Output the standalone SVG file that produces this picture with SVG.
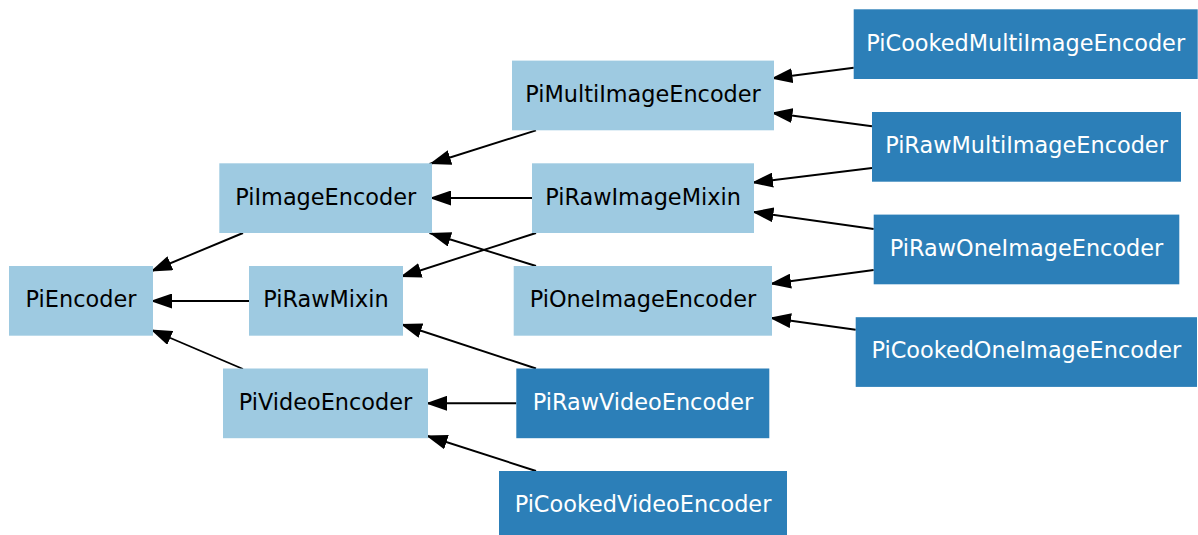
<svg xmlns="http://www.w3.org/2000/svg" width="1198" height="535" viewBox="0 0 1198 535">
  <style>
    .base rect { fill: #9ecae1; }
    .leaf rect { fill: #2c7fb8; }
    text { font-family: "DejaVu Sans", "Liberation Sans", sans-serif; font-size: 22.4px; text-anchor: middle; }
    .base text { fill: #000000; }
    .leaf text { fill: #ffffff; }
    #edges line { stroke: #000000; stroke-width: 1.9; marker-end: url(#arrow); }
  </style>
  <defs>
    <marker id="arrow" viewBox="0 0 21.5 15" markerWidth="21.5" markerHeight="15" refX="21.5" refY="7.5" markerUnits="userSpaceOnUse" orient="auto">
      <path d="M0,0 L21.5,7.5 L0,15 Z" fill="#000000"/>
    </marker>
  </defs>
  <rect width="1198" height="535" fill="#ffffff"/>

  <!-- inheritance edges: child on the right, arrow points at the parent -->
  <g id="edges">
    <line x1="243" y1="233" x2="150.5" y2="271.5"/>
    <line x1="249" y1="301" x2="150.5" y2="301"/>
    <line x1="243" y1="369" x2="150.5" y2="329.5"/>
    <line x1="536" y1="130.3" x2="429.5" y2="164"/>
    <line x1="532" y1="198" x2="429.5" y2="198"/>
    <line x1="536" y1="266" x2="429.5" y2="233"/>
    <line x1="536" y1="233" x2="400" y2="277"/>
    <line x1="536" y1="368.5" x2="400.5" y2="324"/>
    <line x1="516.3" y1="403.3" x2="425.5" y2="403.3"/>
    <line x1="536" y1="471" x2="426" y2="435.5"/>
    <line x1="853.7" y1="67.7" x2="771" y2="78.5"/>
    <line x1="872" y1="126.3" x2="771" y2="112.7"/>
    <line x1="872" y1="168" x2="751.5" y2="182.7"/>
    <line x1="873.7" y1="229" x2="752" y2="211.8"/>
    <line x1="873.7" y1="270" x2="769.5" y2="284"/>
    <line x1="855.7" y1="329.7" x2="769.5" y2="317.7"/>
  </g>

  <g id="PiEncoder" class="base">
    <rect x="9" y="266" width="144" height="69.7"/>
    <text x="81" y="307.2">PiEncoder</text>
  </g>
  <g id="PiImageEncoder" class="base">
    <rect x="219.3" y="163.3" width="212.7" height="69.7"/>
    <text x="325.7" y="204.5">PiImageEncoder</text>
  </g>
  <g id="PiRawMixin" class="base">
    <rect x="249" y="266" width="154" height="69.7"/>
    <text x="326" y="307.2">PiRawMixin</text>
  </g>
  <g id="PiVideoEncoder" class="base">
    <rect x="223" y="368.5" width="205" height="69.7"/>
    <text x="325.5" y="409.6">PiVideoEncoder</text>
  </g>
  <g id="PiMultiImageEncoder" class="base">
    <rect x="512" y="60.6" width="262" height="69.7"/>
    <text x="643" y="101.8">PiMultiImageEncoder</text>
  </g>
  <g id="PiRawImageMixin" class="base">
    <rect x="532" y="163.3" width="222" height="69.7"/>
    <text x="643" y="204.5">PiRawImageMixin</text>
  </g>
  <g id="PiOneImageEncoder" class="base">
    <rect x="513.7" y="266" width="258.3" height="69.7"/>
    <text x="643" y="307.2">PiOneImageEncoder</text>
  </g>
  <g id="PiRawVideoEncoder" class="leaf">
    <rect x="516.3" y="368.5" width="253" height="69.7"/>
    <text x="643" y="409.6">PiRawVideoEncoder</text>
  </g>
  <g id="PiCookedVideoEncoder" class="leaf">
    <rect x="499" y="471" width="288" height="69.7"/>
    <text x="643" y="512.2">PiCookedVideoEncoder</text>
  </g>
  <g id="PiCookedMultiImageEncoder" class="leaf">
    <rect x="853.7" y="9.3" width="344" height="69.7"/>
    <text x="1025.7" y="50.5">PiCookedMultiImageEncoder</text>
  </g>
  <g id="PiRawMultiImageEncoder" class="leaf">
    <rect x="872" y="112" width="309" height="69.7"/>
    <text x="1026.5" y="153.2">PiRawMultiImageEncoder</text>
  </g>
  <g id="PiRawOneImageEncoder" class="leaf">
    <rect x="873.7" y="214.6" width="305.6" height="69.7"/>
    <text x="1026.5" y="255.8">PiRawOneImageEncoder</text>
  </g>
  <g id="PiCookedOneImageEncoder" class="leaf">
    <rect x="855.7" y="317.2" width="341.3" height="69.7"/>
    <text x="1026.3" y="358.4">PiCookedOneImageEncoder</text>
  </g>
</svg>
